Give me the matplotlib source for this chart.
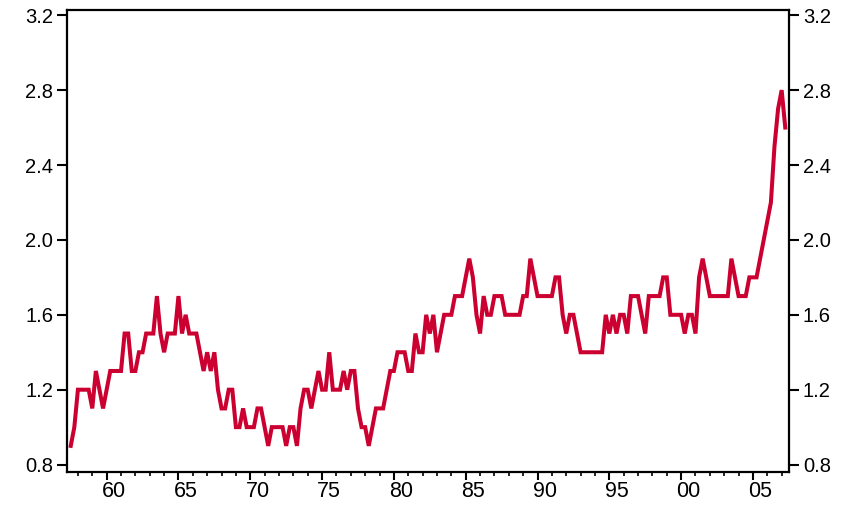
import numpy as np
import matplotlib
matplotlib.use("Agg")
import matplotlib.pyplot as plt
from matplotlib.ticker import FixedLocator

plt.rcParams["font.family"] = ["Liberation Sans", "DejaVu Sans"]

# Quarterly series, 1957Q3 - 2007Q2
start_year = 1957.5
values = [
    0.9, 1.0, 1.2, 1.2, 1.2, 1.2, 1.1, 1.3, 1.2, 1.1,
    1.2, 1.3, 1.3, 1.3, 1.3, 1.5, 1.5, 1.3, 1.3, 1.4,
    1.4, 1.5, 1.5, 1.5, 1.7, 1.5, 1.4, 1.5, 1.5, 1.5,
    1.7, 1.5, 1.6, 1.5, 1.5, 1.5, 1.4, 1.3, 1.4, 1.3,
    1.4, 1.2, 1.1, 1.1, 1.2, 1.2, 1.0, 1.0, 1.1, 1.0,
    1.0, 1.0, 1.1, 1.1, 1.0, 0.9, 1.0, 1.0, 1.0, 1.0,
    0.9, 1.0, 1.0, 0.9, 1.1, 1.2, 1.2, 1.1, 1.2, 1.3,
    1.2, 1.2, 1.4, 1.2, 1.2, 1.2, 1.3, 1.2, 1.3, 1.3,
    1.1, 1.0, 1.0, 0.9, 1.0, 1.1, 1.1, 1.1, 1.2, 1.3,
    1.3, 1.4, 1.4, 1.4, 1.3, 1.3, 1.5, 1.4, 1.4, 1.6,
    1.5, 1.6, 1.4, 1.5, 1.6, 1.6, 1.6, 1.7, 1.7, 1.7,
    1.8, 1.9, 1.8, 1.6, 1.5, 1.7, 1.6, 1.6, 1.7, 1.7,
    1.7, 1.6, 1.6, 1.6, 1.6, 1.6, 1.7, 1.7, 1.9, 1.8,
    1.7, 1.7, 1.7, 1.7, 1.7, 1.8, 1.8, 1.6, 1.5, 1.6,
    1.6, 1.5, 1.4, 1.4, 1.4, 1.4, 1.4, 1.4, 1.4, 1.6,
    1.5, 1.6, 1.5, 1.6, 1.6, 1.5, 1.7, 1.7, 1.7, 1.6,
    1.5, 1.7, 1.7, 1.7, 1.7, 1.8, 1.8, 1.6, 1.6, 1.6,
    1.6, 1.5, 1.6, 1.6, 1.5, 1.8, 1.9, 1.8, 1.7, 1.7,
    1.7, 1.7, 1.7, 1.7, 1.9, 1.8, 1.7, 1.7, 1.7, 1.8,
    1.8, 1.8, 1.9, 2.0, 2.1, 2.2, 2.5, 2.7, 2.8, 2.6,
]
y_ticks = [0.8, 1.2, 1.6, 2.0, 2.4, 2.8, 3.2]
label_years = [1960, 1965, 1970, 1975, 1980, 1985, 1990, 1995, 2000, 2005]
year_labels = ["60", "65", "70", "75", "80", "85", "90", "95", "00", "05"]

dates = start_year + np.arange(len(values)) / 4.0

fig = plt.figure(figsize=(8.59, 5.07), dpi=100)
ax = fig.add_axes([0.078, 0.0696, 0.8405, 0.9107])

ax.plot(dates, values, color="#CC0030", lw=2.9, solid_joinstyle="miter")

ax.set_xlim(1957.24, 2007.51)
ax.set_ylim(0.762, 3.228)

for s in ax.spines.values():
    s.set_linewidth(1.6)
    s.set_color("black")

# y axis: ticks and labels on both sides
ax.set_yticks(y_ticks)
ax.set_yticklabels([f"{v:.1f}" for v in y_ticks])
ax.tick_params(axis="y", which="both", left=True, right=True,
               labelleft=True, labelright=True, direction="out",
               length=7, width=1.5, labelsize=14.5, pad=3)

# x axis: long ticks every five years, short ticks every year
ax.xaxis.set_major_locator(FixedLocator(label_years))
ax.xaxis.set_minor_locator(FixedLocator(np.arange(1958, 2008)))
ax.tick_params(axis="x", which="major", direction="out", length=5.5,
               width=1.5, labelbottom=False)
ax.tick_params(axis="x", which="minor", direction="out", length=3,
               width=1.2)

# year labels centred on the middle of each year
sec = ax.secondary_xaxis("bottom")
sec.set_xticks([y + 0.5 for y in label_years])
sec.set_xticklabels(year_labels)
sec.tick_params(axis="x", length=0, pad=7, labelsize=15.5)
sec.spines["bottom"].set_visible(False)

fig.savefig("out.png", dpi=100)
